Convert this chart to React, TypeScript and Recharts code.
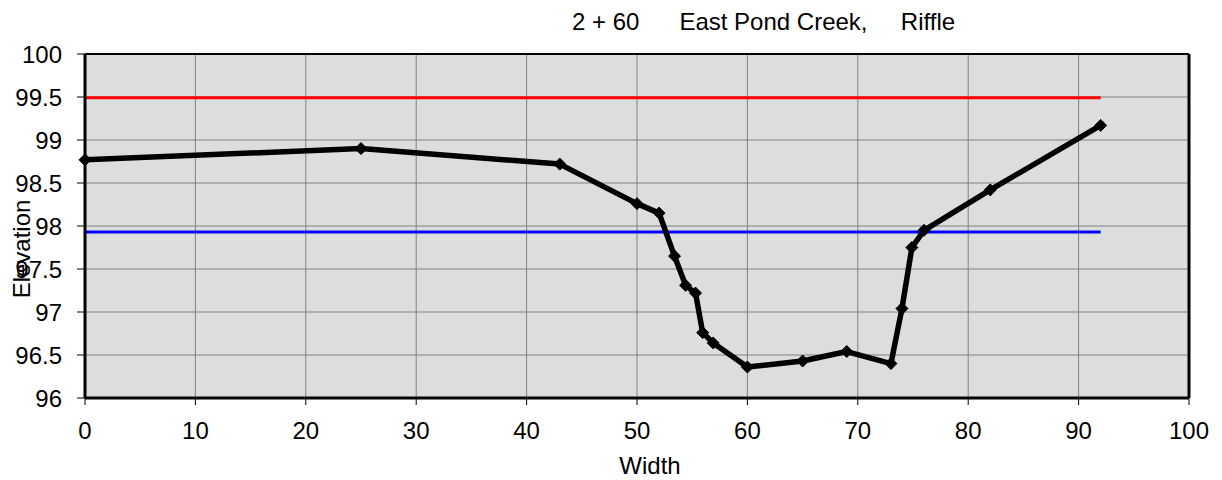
import { CartesianGrid, Line, LineChart, ReferenceLine, XAxis, YAxis } from "recharts";

// station widths (ft) and surveyed bed elevations
const widths = [0, 25, 43, 50, 52, 53.4, 54.4, 55.3, 55.95, 56.9, 60, 65, 69, 73, 74, 74.9, 76, 82, 92];
const elevations = [
  98.77, 98.9, 98.72, 98.26, 98.15, 97.65, 97.31, 97.22, 96.76, 96.64, 96.36, 96.43, 96.54, 96.4,
  97.04, 97.75, 97.95, 98.42, 99.17,
];

// horizontal reference lines across the section
const levelWidths = [0, 92];
const redLevel = 99.49;
const blueLevel = 97.93;

const xTicks = [0, 10, 20, 30, 40, 50, 60, 70, 80, 90, 100];
const yTicks = [96, 96.5, 97, 97.5, 98, 98.5, 99, 99.5, 100];

const titleText = "2 + 60      East Pond Creek,     Riffle";
const xTitle = "Width";
const yTitle = "Elevation";

const FONT = '"Liberation Sans", Arial, sans-serif';

const profile = widths.map((x, i) => ({ x, y: elevations[i] }));
const redRows = levelWidths.map((x) => ({ x, y: redLevel }));
const blueRows = levelWidths.map((x) => ({ x, y: blueLevel }));

function Diamond(props: any) {
  const { cx, cy, index } = props;
  if (cx == null || cy == null) return null;
  const r = 6;
  return (
    <path
      key={`d-${index}`}
      d={`M${cx},${cy - r}L${cx + r},${cy}L${cx},${cy + r}L${cx - r},${cy}Z`}
      fill="#000"
      stroke="#000"
    />
  );
}

export default function App() {
  const tick = { fontSize: 24, fill: "#000", fontFamily: FONT };
  return (
    <div style={{ width: 1214, height: 472, fontFamily: FONT }}>
      <LineChart
        width={1214}
        height={472}
        data={profile}
        margin={{ top: 46, right: 33, bottom: 42, left: 0 }}
      >
        <CartesianGrid fill="#dddddd" stroke="#808080" strokeWidth={1} />
        <XAxis
          dataKey="x"
          type="number"
          domain={[0, 100]}
          ticks={xTicks}
          interval={0}
          height={40}
          tick={tick}
          tickSize={7}
          tickMargin={17}
          axisLine={{ stroke: "#000", strokeWidth: 3 }}
          tickLine={{ stroke: "#000" }}
        />
        <YAxis
          type="number"
          domain={[96, 100]}
          ticks={yTicks}
          interval={0}
          width={77}
          tick={tick}
          tickSize={8}
          tickMargin={15}
          axisLine={{ stroke: "#000", strokeWidth: 3 }}
          tickLine={{ stroke: "#000" }}
        />
        <ReferenceLine y={100} stroke="#000" strokeWidth={2} />
        <ReferenceLine x={100} stroke="#000" strokeWidth={3} />
        <Line
          data={redRows}
          dataKey="y"
          stroke="#ff0000"
          strokeWidth={3}
          dot={false}
          isAnimationActive={false}
        />
        <Line
          data={blueRows}
          dataKey="y"
          stroke="#0000ff"
          strokeWidth={3}
          dot={false}
          isAnimationActive={false}
        />
        <Line
          dataKey="y"
          stroke="#000"
          strokeWidth={5.5}
          strokeLinejoin="round"
          dot={Diamond}
          activeDot={false}
          isAnimationActive={false}
        />
        <text x={564} y={22} fontSize={24} fill="#000" fontFamily={FONT} style={{ whiteSpace: "pre" }}>
          {titleText}
        </text>
        <text x={642} y={466} fontSize={24} fill="#000" fontFamily={FONT} textAnchor="middle">
          {xTitle}
        </text>
        <text
          x={22}
          y={241}
          fontSize={24}
          fill="#000"
          fontFamily={FONT}
          textAnchor="middle"
          transform="rotate(-90, 22, 241)"
        >
          {yTitle}
        </text>
      </LineChart>
    </div>
  );
}
